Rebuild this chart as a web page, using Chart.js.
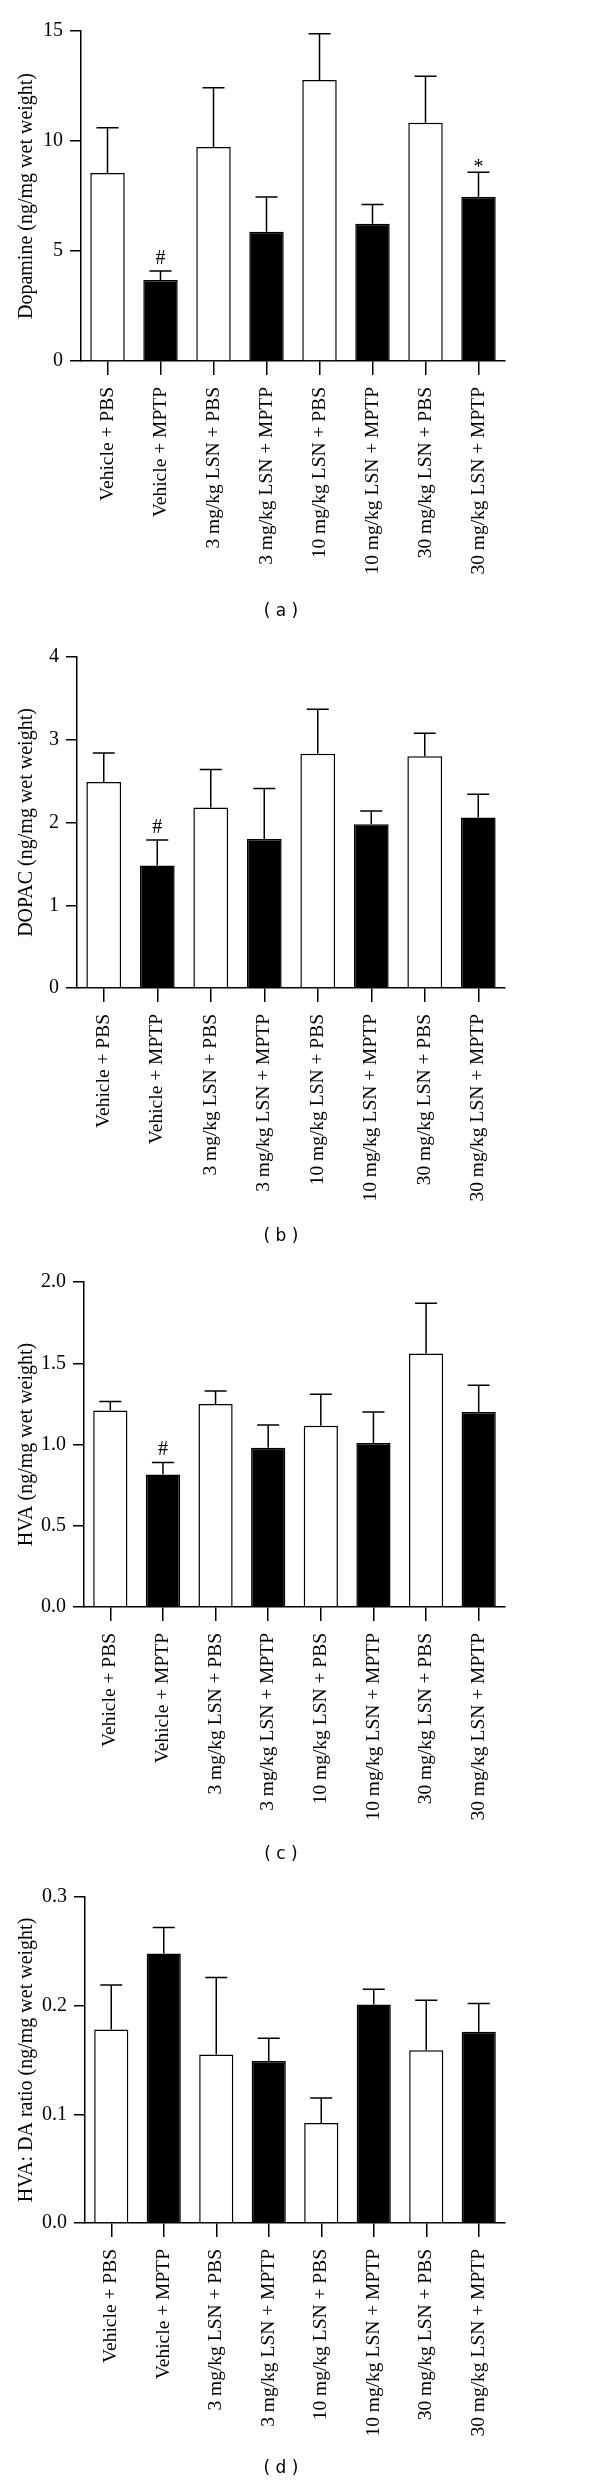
<!DOCTYPE html>
<html>
<head>
<meta charset="utf-8">
<script src="https://cdn.jsdelivr.net/npm/chart.js@4"></script>
<style>
  body { margin: 0; background: #fff; }
  #page { position: relative; width: 600px; height: 2483px; overflow: hidden; background: #fff; }
  .panel { position: absolute; left: 0; }
  .caption {
    position: absolute;
    font-family: "DejaVu Sans", sans-serif;
    font-size: 17px;
    color: #000;
    transform: translate(-50%, -50%);
    white-space: pre;
  }
</style>
</head>
<body>
<div id="page"></div>
<script>
const groups = ['Vehicle + PBS', 'Vehicle + MPTP', '3 mg/kg LSN + PBS', '3 mg/kg LSN + MPTP',
                '10 mg/kg LSN + PBS', '10 mg/kg LSN + MPTP', '30 mg/kg LSN + PBS', '30 mg/kg LSN + MPTP'];

// (a) dopamine
const dopamineMean = [8.55, 3.68, 9.73, 5.88, 12.77, 6.24, 10.83, 7.47];
const dopamineErr = [2.05, 0.41, 2.69, 1.57, 2.11, 0.87, 2.11, 1.11];
const dopamineMarks = ['', '#', '', '', '', '', '', '*'];
const dopamineTicks = ['0', '5', '10', '15'];

// (b) DOPAC
const dopacMean = [2.49, 1.48, 2.18, 1.80, 2.83, 1.98, 2.80, 2.06];
const dopacErr = [0.35, 0.31, 0.46, 0.61, 0.54, 0.16, 0.28, 0.28];
const dopacMarks = ['', '#', '', '', '', '', '', ''];
const dopacTicks = ['0', '1', '2', '3', '4'];

// (c) HVA
const hvaMean = [1.21, 0.815, 1.25, 0.98, 1.115, 1.01, 1.56, 1.20];
const hvaErr = [0.055, 0.075, 0.08, 0.14, 0.195, 0.19, 0.31, 0.165];
const hvaMarks = ['', '#', '', '', '', '', '', ''];
const hvaTicks = ['0.0', '0.5', '1.0', '1.5', '2.0'];

// (d) HVA:DA ratio
const ratioMean = [0.178, 0.248, 0.155, 0.149, 0.092, 0.201, 0.159, 0.176];
const ratioErr = [0.041, 0.024, 0.071, 0.021, 0.023, 0.014, 0.046, 0.026];
const ratioMarks = ['', '', '', '', '', '', '', ''];
const ratioTicks = ['0.0', '0.1', '0.2', '0.3'];

const SERIF = '"Liberation Serif", "Times New Roman", serif';
const PAD_TOP = 31;
const AXIS_H = 240;

// draws the upward SEM whisker and the significance mark above each bar
const errorBarPlugin = {
  id: 'errorBars',
  afterDatasetsDraw(chart, args, opts) {
    const ctx = chart.ctx;
    const yScale = chart.scales.y;
    const values = chart.data.datasets[0].data;
    const meta = chart.getDatasetMeta(0);
    ctx.save();
    ctx.strokeStyle = '#000';
    ctx.lineWidth = 1.5;
    meta.data.forEach((bar, i) => {
      const top = yScale.getPixelForValue(values[i] + opts.err[i]);
      ctx.beginPath();
      ctx.moveTo(bar.x, bar.y);
      ctx.lineTo(bar.x, top);
      ctx.moveTo(bar.x - 11, top);
      ctx.lineTo(bar.x + 11, top);
      ctx.stroke();
      const mark = opts.marks[i];
      if (mark) {
        ctx.fillStyle = '#000';
        ctx.font = '20px ' + SERIF;
        ctx.textAlign = 'center';
        ctx.textBaseline = 'alphabetic';
        ctx.fillText(mark, bar.x, top - (mark === '#' ? 7 : -1));
      }
    });
    ctx.restore();
  }
};

const panels = [
  { caption: '( a )', title: 'Dopamine (ng/mg wet weight)', mean: dopamineMean, err: dopamineErr,
    marks: dopamineMarks, ticks: dopamineTicks, areaTop: 31, areaLeft: 81, areaHeight: 330, captionY: 610 },
  { caption: '( b )', title: 'DOPAC (ng/mg wet weight)', mean: dopacMean, err: dopacErr,
    marks: dopacMarks, ticks: dopacTicks, areaTop: 657, areaLeft: 77, areaHeight: 331, captionY: 1235 },
  { caption: '( c )', title: 'HVA (ng/mg wet weight)', mean: hvaMean, err: hvaErr,
    marks: hvaMarks, ticks: hvaTicks, areaTop: 1282, areaLeft: 84, areaHeight: 325, captionY: 1853 },
  { caption: '( d )', title: 'HVA: DA ratio (ng/mg wet weight)', mean: ratioMean, err: ratioErr,
    marks: ratioMarks, ticks: ratioTicks, areaTop: 1897, areaLeft: 85, areaHeight: 326, captionY: 2467 }
];

const page = document.getElementById('page');

function makePanel(p) {
  const h = PAD_TOP + p.areaHeight + AXIS_H;
  const wrap = document.createElement('div');
  wrap.className = 'panel';
  wrap.style.top = (p.areaTop - PAD_TOP) + 'px';
  const canvas = document.createElement('canvas');
  canvas.width = 600;
  canvas.height = h;
  canvas.style.width = '600px';
  canvas.style.height = h + 'px';
  wrap.appendChild(canvas);
  page.appendChild(wrap);

  const cap = document.createElement('div');
  cap.className = 'caption';
  cap.textContent = p.caption;
  cap.style.left = '281px';
  cap.style.top = p.captionY + 'px';
  page.appendChild(cap);

  const tickValues = p.ticks.map(Number);

  new Chart(canvas, {
    type: 'bar',
    data: {
      labels: groups,
      datasets: [{
        data: p.mean,
        backgroundColor: p.mean.map((_, i) => i % 2 ? '#000' : '#fff'),
        borderColor: '#000',
        borderWidth: 1.5,
        barPercentage: 0.65,
        categoryPercentage: 1
      }]
    },
    options: {
      responsive: false,
      animation: false,
      devicePixelRatio: 1,
      layout: { padding: { top: PAD_TOP, right: 95, left: 0, bottom: 0 } },
      plugins: {
        legend: { display: false },
        tooltip: { enabled: false },
        errorBars: { err: p.err, marks: p.marks }
      },
      scales: {
        x: {
          grid: { offset: false, drawOnChartArea: false, tickLength: 14, color: '#000', lineWidth: 1.5 },
          border: { color: '#000', width: 1.5 },
          ticks: { color: '#000', font: { family: SERIF, size: 19.5 }, maxRotation: 90, minRotation: 90, padding: 12, autoSkip: false },
          afterFit: s => { s.height = AXIS_H; }
        },
        y: {
          min: 0,
          max: tickValues[tickValues.length - 1],
          grid: { drawOnChartArea: false, tickLength: 11, color: '#000', lineWidth: 1.5 },
          border: { color: '#000', width: 1.5 },
          ticks: { color: '#000', font: { family: SERIF, size: 20 }, padding: 7, callback: (v, i) => p.ticks[i] },
          afterBuildTicks: s => { s.ticks = tickValues.map(v => ({ value: v })); },
          afterFit: s => { s.width = p.areaLeft; },
          title: { display: true, text: p.title, color: '#000', font: { family: SERIF, size: 20 }, padding: { top: 15, bottom: 0 } }
        }
      }
    },
    plugins: [errorBarPlugin]
  });
}

panels.forEach(makePanel);
</script>
</body>
</html>
